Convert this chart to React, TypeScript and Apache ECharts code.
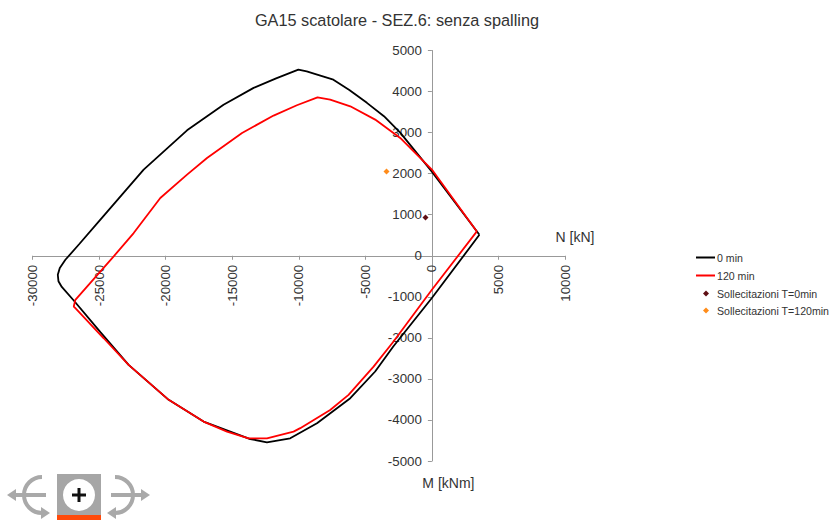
import React, { useEffect, useRef } from "react";
import * as echarts from "echarts";

const TITLE = "GA15 scatolare - SEZ.6: senza spalling";
const SERIES_NAMES = ["0 min", "120 min", "Sollecitazioni T=0min", "Sollecitazioni T=120min"];
const xTickInterval = 5000;
const yTickInterval = 1000;

const n0 = [3570, 0, -2380, -3600, -4880, -6200, -7400, -8800, -9400, -10030, -11700, -13390, -15650, -18390, -21650, -24900, -26500, -27530, -27950, -28100, -28050, -27800, -26900, -24900, -22780, -19770, -17150, -13640, -12390, -10640, -8630, -6130, -4260, -2900, 0, 3570];
const m0 = [510, 2050, 3000, 3400, 3725, 4040, 4290, 4430, 4490, 4535, 4320, 4090, 3680, 3055, 2100, 880, 280, -98, -300, -463, -620, -760, -1090, -1860, -2660, -3510, -4040, -4465, -4545, -4447, -4080, -3470, -2820, -2210, -1030, 510];
const n120 = [3380, 0, -2380, -4260, -6130, -7640, -8590, -10140, -11890, -14260, -16890, -18390, -20400, -22400, -23900, -26780, -26900, -26780, -24650, -22780, -19770, -17150, -15390, -13770, -12390, -10390, -9890, -7640, -6260, -4380, -2880, 0, 3380];
const m120 = [593, 2100, 2870, 3317, 3640, 3805, 3860, 3667, 3415, 2990, 2380, 1975, 1407, 553, -15, -1073, -1237, -1277, -2010, -2660, -3510, -4040, -4285, -4447, -4447, -4285, -4200, -3756, -3390, -2700, -2090, -830, 593];
const loadT0 = [[-480, 934]];
const loadT120 = [[-3410, 2055]];

const zip = (a: number[], b: number[]) => a.map((v, i) => [v, b[i]]);

const GREY = "#a9a9a9";
const logo = (cx: number, dir: number) => {
  const arrow = (pts: number[][]) => ({ type: "polygon", shape: { points: pts }, style: { fill: GREY } });
  return [
    {
      type: "arc",
      shape: { cx, cy: 495, r: 18, startAngle: dir < 0 ? Math.PI / 2 : -Math.PI / 2, endAngle: dir < 0 ? -Math.PI / 2 : Math.PI / 2, clockwise: true },
      style: { stroke: GREY, lineWidth: 4, fill: "none" },
    },
    { type: "line", shape: { x1: cx - dir * 4, y1: 495, x2: cx + dir * 28, y2: 495 }, style: { stroke: GREY, lineWidth: 4 } },
    arrow([[cx + dir * 35, 495], [cx + dir * 26, 489], [cx + dir * 26, 501]]),
    arrow([[cx - dir * 8, 513], [cx + dir * 1, 507], [cx + dir * 1, 519]]),
  ];
};

export default function App() {
  const ref = useRef<HTMLDivElement>(null);
  useEffect(() => {
    const chart = echarts.init(ref.current!, undefined, { renderer: "svg" });
    const labelStyle = { fontFamily: "Liberation Sans", fontSize: 13.3, color: "#333333", formatter: (v: number) => String(v), hideOverlap: false };
    const axisCommon = {
      type: "value" as const,
      splitLine: { show: false },
      axisLine: { onZero: false, lineStyle: { color: "#999999", width: 1 } },
      axisTick: { length: 4, lineStyle: { color: "#999999" } },
      nameTextStyle: { fontFamily: "Liberation Sans", fontSize: 14, color: "#333333" },
    };
    const legendText = { fontFamily: "Liberation Sans", fontSize: 10.6, color: "#333333" };
    chart.setOption({
      animation: false,
      backgroundColor: "#ffffff",
      textStyle: { fontFamily: "Liberation Sans" },
      title: {
        text: TITLE,
        left: 392,
        top: 7,
        textAlign: "center",
        textStyle: { fontFamily: "Liberation Sans", fontSize: 16.3, fontWeight: "normal", color: "#333333" },
      },
      grid: { left: 32.5, right: 265, top: 50.5, bottom: 59, outerBoundsMode: "none", containLabel: false },
      xAxis: {
        ...axisCommon,
        position: "bottom",
        offset: -205.25,
        min: -30000,
        max: 10000,
        interval: xTickInterval,
        name: "N [kN]",
        nameLocation: "end",
        nameGap: 10,
        nameTextStyle: { ...axisCommon.nameTextStyle, align: "center", verticalAlign: "bottom", padding: [0, 0, 12, 0] },
        axisLabel: { ...labelStyle, rotate: 90, margin: 9 },
      },
      yAxis: {
        ...axisCommon,
        position: "left",
        offset: -399.375,
        min: -5000,
        max: 5000,
        interval: yTickInterval,
        name: "M [kNm]",
        nameLocation: "start",
        nameGap: 15,
        nameTextStyle: { ...axisCommon.nameTextStyle, align: "center", verticalAlign: "top", padding: [0, 0, 0, 33] },
        axisLabel: { ...labelStyle, margin: 10 },
      },
      legend: [
        {
          left: 696,
          top: 252,
          orient: "vertical",
          padding: 0,
          icon: "rect",
          itemWidth: 19,
          itemHeight: 2,
          itemGap: 7,
          textStyle: { ...legendText, padding: [0, 0, 0, -3] },
          data: SERIES_NAMES.slice(0, 2),
        },
        {
          left: 703,
          top: 288,
          orient: "vertical",
          padding: 0,
          itemWidth: 6,
          itemHeight: 6,
          itemGap: 6,
          textStyle: { ...legendText, padding: [0, 0, 0, 3] },
          data: SERIES_NAMES.slice(2),
        },
      ],
      series: [
        { name: SERIES_NAMES[0], type: "line", data: zip(n0, m0), symbol: "none", lineStyle: { color: "#000000", width: 1.8 }, itemStyle: { color: "#000000" } },
        { name: SERIES_NAMES[1], type: "line", data: zip(n120, m120), symbol: "none", lineStyle: { color: "#ff0000", width: 1.8 }, itemStyle: { color: "#ff0000" } },
        { name: SERIES_NAMES[2], type: "scatter", data: loadT0, symbol: "diamond", symbolSize: 6, itemStyle: { color: "#5f0f14", opacity: 1 } },
        { name: SERIES_NAMES[3], type: "scatter", data: loadT120, symbol: "diamond", symbolSize: 6, itemStyle: { color: "#ff8c1a", opacity: 1 } },
      ],
      graphic: [
        ...logo(42, -1),
        ...logo(115, 1),
        { type: "rect", shape: { x: 57, y: 474, width: 44, height: 41 }, style: { fill: "#a6a6a6" } },
        { type: "rect", shape: { x: 57, y: 515, width: 44, height: 5 }, style: { fill: "#ff4a0a" } },
        { type: "circle", shape: { cx: 79, cy: 495, r: 16 }, style: { fill: "#ffffff" } },
        { type: "rect", shape: { x: 72, y: 493.5, width: 14, height: 3 }, style: { fill: "#111111" } },
        { type: "rect", shape: { x: 77.5, y: 488, width: 3, height: 14 }, style: { fill: "#111111" } },
      ],
    });
    return () => chart.dispose();
  }, []);
  return <div ref={ref} style={{ position: "absolute", left: 0, top: 0, width: 830, height: 520 }} />;
}
